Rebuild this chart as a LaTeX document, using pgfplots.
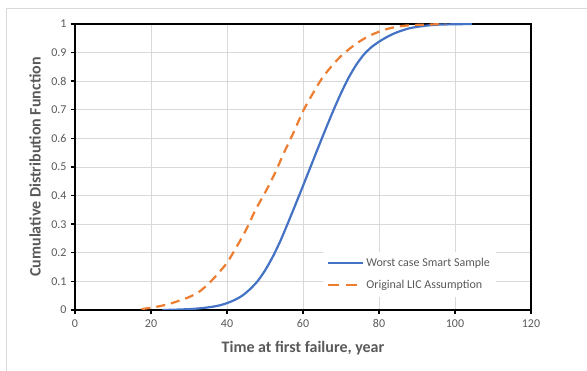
\documentclass[border=0pt]{standalone}
\usepackage{pgfplots}
\pgfplotsset{compat=1.18}
\usepackage{fontspec}
\setmainfont{Carlito}
\definecolor{wsblue}{HTML}{4472C4}
\definecolor{licorange}{HTML}{ED7D31}
\definecolor{gridgray}{HTML}{D9D9D9}
\definecolor{txtgray}{HTML}{595959}
\pgfplotsset{
  legsolid/.style={legend image code/.code={\draw[##1] (0pt,0pt) -- (35pt,0pt);}},
  legdash/.style={legend image code/.code={\draw[##1, dash pattern=on 11pt off 7pt] (0pt,0pt) -- (35pt,0pt);}},
}
\begin{document}
\begin{tikzpicture}
\useasboundingbox (-75pt,-61pt) rectangle (512pt,310pt);
\draw[gridgray, line width=1pt] (-68pt,-61pt) -- (-68pt,301pt) -- (512pt,301pt);
\begin{axis}[
  at={(0pt,0pt)}, anchor=south west,
  scale only axis, width=456pt, height=286pt,
  xmin=0, xmax=120, ymin=0, ymax=1,
  xtick={0,20,40,60,80,100,120},
  ytick={0,0.1,0.2,0.3,0.4,0.5,0.6,0.7,0.8,0.9,1},
  yticklabels={0,0.1,0.2,0.3,0.4,0.5,0.6,0.7,0.8,0.9,1},
  xtick pos=lower, ytick pos=left,
  tick align=outside, major tick length=4pt,
  tick style={black, line width=1.4pt},
  grid=major, grid style={gridgray, line width=0.9pt},
  axis line style={black, line width=2.4pt},
  /pgf/number format/assume math mode=true,
  ticklabel style={font=\fontsize{12}{14}\selectfont, text=txtgray},
  xticklabel style={yshift=-2pt},
  yticklabel style={xshift=-1pt},
  xlabel={Time at first failure, year},
  ylabel={Cumulative Distribution Function},
  xlabel style={at={(axis description cs:0.5,-0.1329)}, anchor=center, font=\fontsize{16}{19}\selectfont\bfseries, text=txtgray},
  ylabel style={at={(axis description cs:-0.0877,0.5)}, anchor=center, font=\fontsize{16}{19}\selectfont\bfseries, text=txtgray},
  legend cell align=left,
  legend style={at={(axis description cs:0.5439,0.0455)}, anchor=south west,
    draw=none, fill=white, font=\fontsize{12}{14}\selectfont, text=txtgray,
    inner xsep=4pt, inner ysep=4.5pt, row sep=8.3pt, column sep=0pt,
    nodes={inner sep=2pt}},
]
\addplot[wsblue, line width=2.2pt, smooth, tension=0.4, legsolid]
  coordinates {
  (23,0.000) (26,0.001) (30,0.003) (33,0.006) (36,0.011) (38,0.016)
  (40,0.024) (42,0.035) (44,0.050) (46,0.072) (48,0.100) (50,0.138)
  (52,0.185) (54,0.240) (56,0.303) (58,0.368) (60,0.434) (62,0.501)
  (64,0.568) (66,0.634) (68,0.698) (70,0.758) (72,0.812) (74,0.857)
  (76,0.893) (78,0.919) (80,0.938) (82,0.954) (84,0.967) (86,0.977)
  (88,0.985) (90,0.990) (93,0.995) (96,0.998) (100,0.999) (104.5,1.000)
  };
\addlegendentry{Worst case Smart Sample}
\addplot[licorange, line width=2.2pt, dash pattern=on 9pt off 6pt, smooth, tension=0.4, legdash]
  coordinates {
  (17.5,0.003) (20,0.008) (22.5,0.014) (25,0.022) (27.5,0.033) (30,0.045)
  (32.5,0.062) (35,0.090) (37.5,0.125) (40,0.165) (42.5,0.220) (45,0.280)
  (47.5,0.350) (50,0.410) (52.5,0.475) (55,0.550) (57.5,0.620) (60,0.695)
  (62.5,0.755) (65,0.810) (67.5,0.852) (70,0.888) (72.5,0.916) (75,0.940)
  (77.5,0.959) (80,0.973) (82.5,0.984) (85,0.991) (87.5,0.995) (90,0.997)
  (95,0.999) (97.5,1.000)
  };
\addlegendentry{Original LIC Assumption}
\end{axis}
\end{tikzpicture}
\end{document}
